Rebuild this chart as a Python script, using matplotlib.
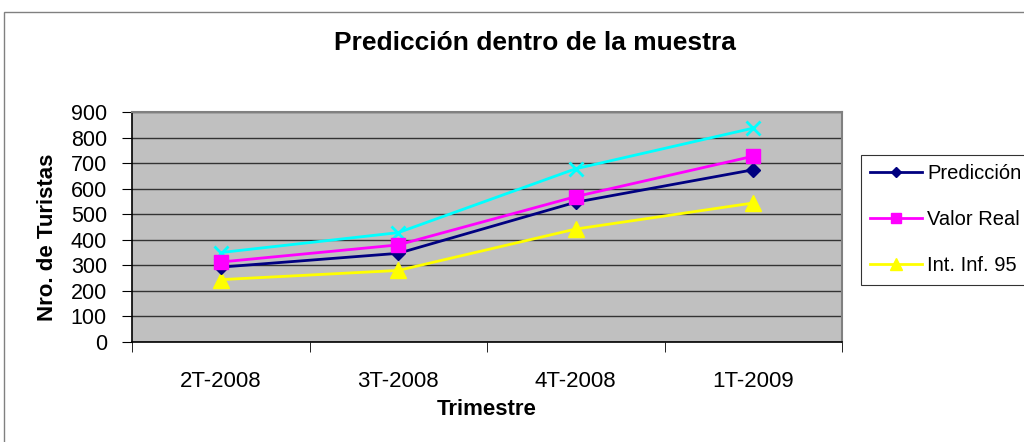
import numpy as np
import matplotlib.pyplot as plt
from matplotlib.patches import Rectangle

plt.rcParams['font.family'] = ['Liberation Sans', 'DejaVu Sans']

trimestres = ['2T-2008', '3T-2008', '4T-2008', '1T-2009']
prediccion = [293, 347, 547, 674]
valor_real = [313, 380, 569, 727]
int_inf = [244, 280, 442, 544]
int_sup = [350, 428, 678, 837]

fig = plt.figure(figsize=(10.24, 4.42), dpi=100)
# outer chart frame (runs off the right/bottom edge like the source)
fig.patches.append(Rectangle((4 / 1024, -0.1), 1.2, 1 - 12 / 442 + 0.1,
                             transform=fig.transFigure, fill=False,
                             edgecolor='#808080', lw=1))

ax = fig.add_axes([132 / 1024, 100 / 442, 710 / 1024, 230 / 442])
ax.set_facecolor('#C0C0C0')
x = np.arange(len(trimestres))

ax.plot(x, prediccion, color='#000080', lw=2, marker='D', ms=7, label='Predicción', zorder=4)
ax.plot(x, valor_real, color='#FF00FF', lw=2, marker='s', ms=10, label='Valor Real', zorder=4)
ax.plot(x, int_inf, color='#FFFF00', lw=2, marker='^', ms=11, label='Int. Inf. 95', zorder=3)
ax.plot(x, int_sup, color='#00FFFF', lw=2, marker='x', ms=10, mew=2, label='Int. Sup. 95', zorder=3)

ax.set_xlim(-0.5, 3.5)
ax.set_ylim(0, 900)
ax.set_yticks(range(0, 901, 100))
ax.yaxis.grid(True, color='#333333', lw=1)
ax.set_axisbelow(True)
ax.set_xticks(x)
ax.set_xticklabels(trimestres)
ax.set_xticks(np.arange(-0.5, 4, 1), minor=True)
ax.tick_params(axis='x', which='major', length=0, labelsize=16, pad=21)
ax.tick_params(axis='x', which='minor', length=7, direction='out', color='black')
ax.tick_params(axis='y', length=7, direction='out', labelsize=15.5, pad=11)

for side in ['top', 'right']:
    ax.spines[side].set_color('#808080')
    ax.spines[side].set_linewidth(1.5)
for side in ['left', 'bottom']:
    ax.spines[side].set_color('black')
    ax.spines[side].set_linewidth(1.2)

ax.set_xlabel('Trimestre', fontsize=16, fontweight='bold', labelpad=5)
ax.set_ylabel('Nro. de Turistas', fontsize=16, fontweight='bold')
ax.yaxis.set_label_coords(-0.104, 0.457)
fig.text(0.522, 0.903, 'Predicción dentro de la muestra', ha='center', va='center',
         fontsize=19, fontweight='bold')

h, l = ax.get_legend_handles_labels()
leg = fig.legend(h[:3], l[:3], loc='upper left', bbox_to_anchor=(861 / 1024, 1 - 155 / 442),
                 frameon=True, fancybox=False, edgecolor='black', fontsize=14.5,
                 handlelength=2.6, handletextpad=0.25, labelspacing=1.35,
                 borderpad=0.45, borderaxespad=0, markerscale=0.75)
leg.get_frame().set_linewidth(0.8)

fig.savefig('out.png', dpi=100)
